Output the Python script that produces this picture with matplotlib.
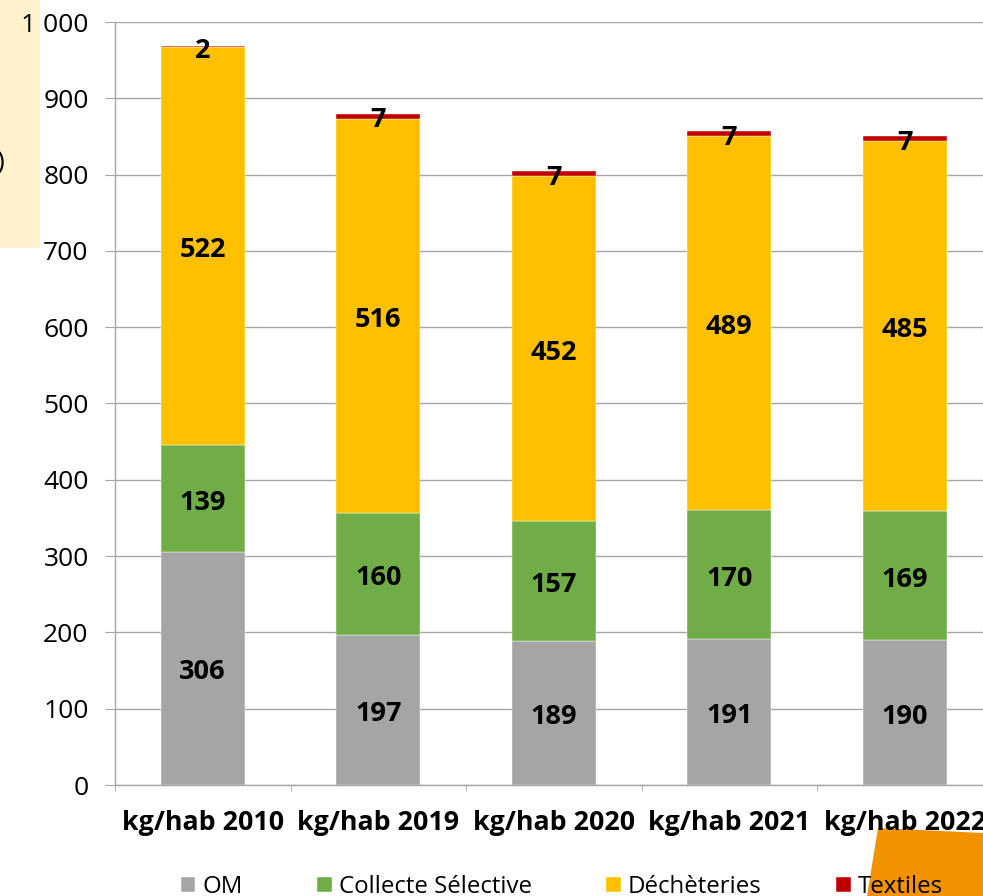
import numpy as np
import matplotlib
matplotlib.use("Agg")
import matplotlib.pyplot as plt
from matplotlib.ticker import FuncFormatter, FixedLocator
from matplotlib.patches import Polygon, Rectangle

plt.rcParams['font.family'] = ['Open Sans', 'DejaVu Sans']

categories = ["kg/hab 2010", "kg/hab 2019", "kg/hab 2020", "kg/hab 2021", "kg/hab 2022"]
om = [306, 197, 189, 191, 190]
collecte = [139, 160, 157, 170, 169]
decheteries = [522, 516, 452, 489, 485]
textiles = [2, 7, 7, 7, 7]

series = [("OM", om, "#A5A5A5"),
          ("Collecte Sélective", collecte, "#70AD47"),
          ("Déchèteries", decheteries, "#FFC000"),
          ("Textiles", textiles, "#C00000")]

W, H = 983, 896
fig = plt.figure(figsize=(W / 100, H / 100), dpi=100)

# background decorations from the cropped page
fig.patches.append(Rectangle((0, 1 - 248 / H), 40 / W, 248 / H, transform=fig.transFigure,
                             facecolor="#FFF2CC", edgecolor="none", zorder=-2))
fig.patches.append(Polygon([(878 / W, 1 - 828 / H), (1.0, 1 - 833 / H), (1.0, 0.0), (867 / W, 0.0)],
                           closed=True, transform=fig.transFigure,
                           facecolor="#F39200", edgecolor="none", zorder=-2))
fig.text(-0.004, 1 - 162 / H, ")", fontsize=19, va="center", ha="left")

ax = fig.add_axes([115 / W, 111 / H, 877.5 / W, 763 / H])

x = np.arange(len(categories))
bottom = np.zeros(len(categories))
for name, vals, col in series:
    vals = np.array(vals, dtype=float)
    ax.bar(x, vals, 0.48, bottom=bottom, color=col, label=name, zorder=2,
           edgecolor="white", linewidth=0.3)
    for xi, b, v in zip(x, bottom, vals):
        ax.annotate(f"{int(v)}", (xi, b + v / 2), xytext=(0, -3), textcoords="offset points",
                    ha="center", va="center", fontsize=19.5, fontweight="bold", zorder=3)
    bottom += vals

ax.set_xlim(-0.5, 4.5)
ax.set_ylim(0, 1000)
ax.set_yticks(np.arange(0, 1001, 100))
ax.yaxis.set_major_formatter(FuncFormatter(lambda v, p: f"{int(v):,}".replace(",", " ")))
ax.grid(axis="y", color="#A6A6A6", linewidth=1, zorder=0)
ax.set_axisbelow(True)

ax.set_xticks(x)
ax.set_xticklabels(categories, fontsize=19.3, fontweight="bold")
ax.xaxis.set_minor_locator(FixedLocator(np.arange(-0.5, 5, 1)))
ax.tick_params(axis="x", which="major", length=0, pad=18)
ax.tick_params(axis="x", which="minor", length=4, color="#A6A6A6", direction="out")
ax.tick_params(axis="y", length=7, color="#A6A6A6", labelsize=19, pad=12)

for s in ["top", "right"]:
    ax.spines[s].set_visible(False)
for s in ["left", "bottom"]:
    ax.spines[s].set_color("#A6A6A6")
    ax.spines[s].set_linewidth(1)

fig.legend(loc="center", bbox_to_anchor=(562 / W, 9 / H), ncol=4, frameon=False,
           fontsize=17.3, handlelength=0.6, handleheight=0.6, handletextpad=0.3,
           columnspacing=3.1)

fig.savefig("out.png", dpi=100)
